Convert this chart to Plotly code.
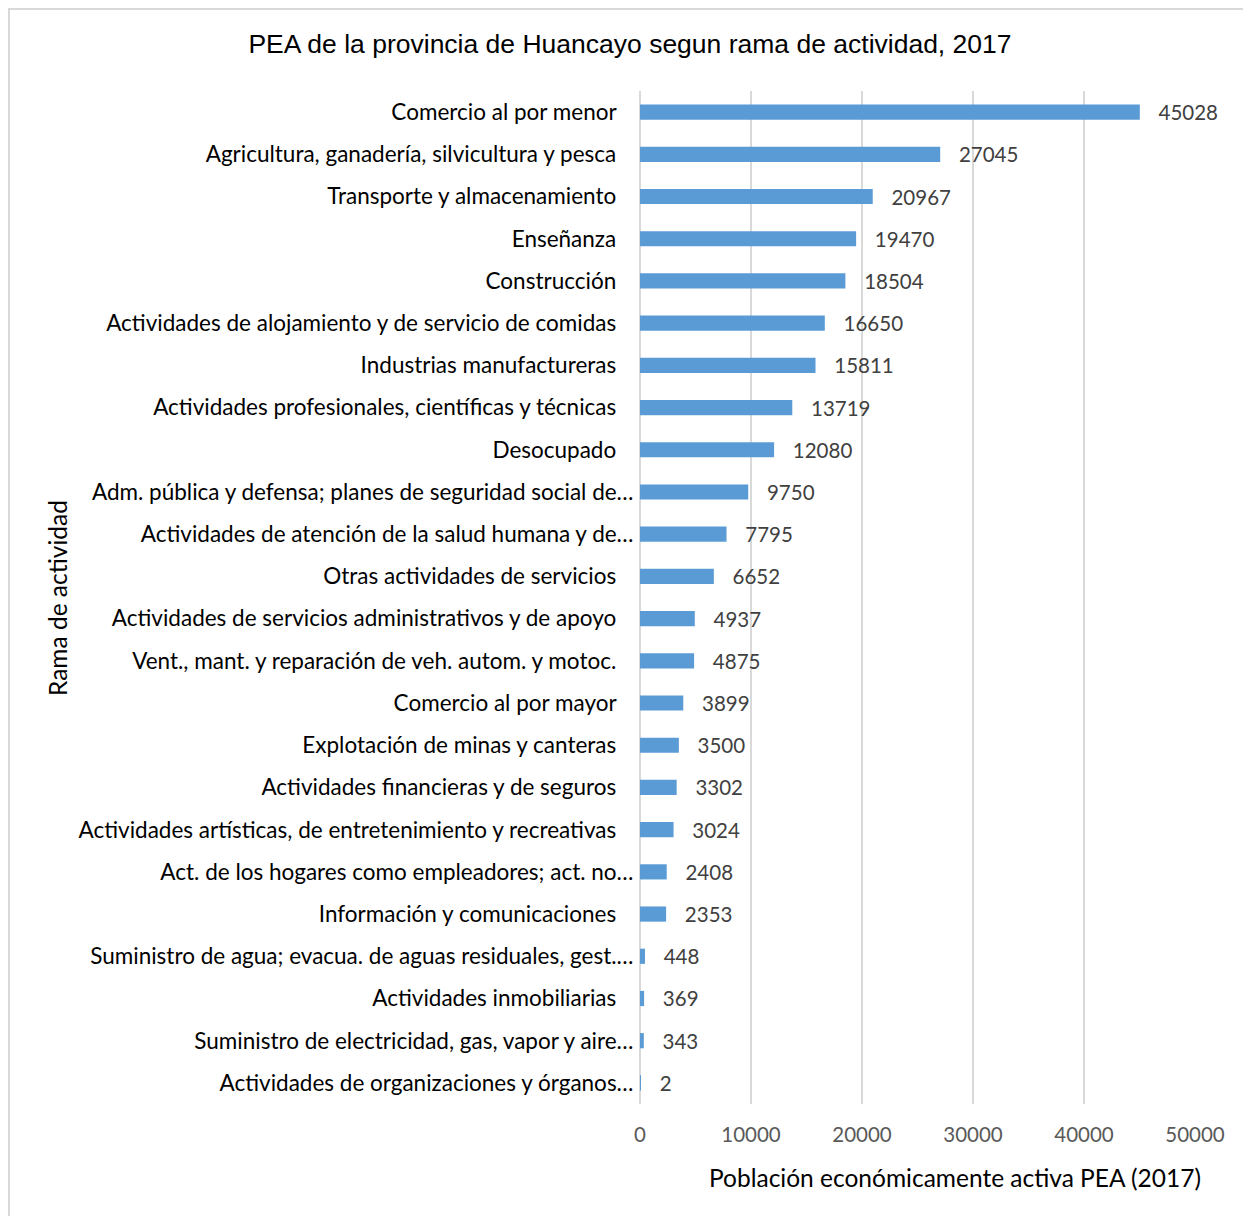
import plotly.graph_objects as go

categories = [
    "Comercio al por menor",
    "Agricultura, ganadería, silvicultura y pesca",
    "Transporte y almacenamiento",
    "Enseñanza",
    "Construcción",
    "Actividades de alojamiento y de servicio de comidas",
    "Industrias manufactureras",
    "Actividades profesionales, científicas y técnicas",
    "Desocupado",
    "Adm. pública y defensa; planes de seguridad social de…",
    "Actividades de atención de la salud humana y de…",
    "Otras actividades de servicios",
    "Actividades de servicios administrativos y de apoyo",
    "Vent., mant. y reparación de veh. autom. y motoc.",
    "Comercio al por mayor",
    "Explotación de minas y canteras",
    "Actividades financieras y de seguros",
    "Actividades artísticas, de entretenimiento y recreativas",
    "Act. de los hogares como empleadores; act. no…",
    "Información y comunicaciones",
    "Suministro de agua; evacua. de aguas residuales, gest.…",
    "Actividades inmobiliarias",
    "Suministro de electricidad, gas, vapor y aire…",
    "Actividades de organizaciones y órganos…",
]
values = [45028, 27045, 20967, 19470, 18504, 16650, 15811, 13719, 12080, 9750,
          7795, 6652, 4937, 4875, 3899, 3500, 3302, 3024, 2408, 2353, 448, 369, 343, 2]
x_ticks = [0, 10000, 20000, 30000, 40000, 50000]

title_text = "PEA de la provincia de Huancayo segun rama de actividad, 2017"
x_title = "Población económicamente activa PEA (2017)"
y_title = "Rama de actividad"

LABEL_FONT = "Lato"
OFF = 8  # page body margin

# Excel right-aligns truncated labels slightly further right than full ones
tick_text = [c if c.endswith("…") else c + "\u00a0" * 3 for c in categories]

fig = go.Figure()
fig.add_trace(go.Bar(
    y=categories,
    x=values,
    orientation="h",
    marker=dict(color="#5B9BD5", line=dict(width=0)),
    width=0.36,
    text=["   " + str(v) for v in values],
    textposition="outside",
    constraintext="none",
    textfont=dict(family=LABEL_FONT, size=20.5, color="#404040"),
    cliponaxis=False,
    hoverinfo="x+y",
))

W, H = 1251 - OFF, 1216 - OFF
ml, mr, mt, mb = 640 - OFF, 56, 91 - OFF, 112
pw = W - ml - mr
ph = H - mt - mb

fig.update_layout(
    width=W, height=H,
    margin=dict(l=ml, r=mr, t=mt, b=mb, autoexpand=False),
    paper_bgcolor="white",
    plot_bgcolor="white",
    showlegend=False,
    title=dict(text=title_text, x=(630 - OFF) / W, xanchor="center", y=1 - (44 - OFF) / H, yanchor="middle",
               font=dict(family="Liberation Sans", size=26.5, color="#000000")),
    xaxis=dict(
        range=[0, 50000],
        tickvals=x_ticks,
        ticktext=[str(t) for t in x_ticks],
        showgrid=True, gridcolor="#D9D9D9", gridwidth=1.5,
        zeroline=True, zerolinecolor="#D9D9D9", zerolinewidth=1.5,
        showline=False,
        tickfont=dict(family=LABEL_FONT, size=20.5, color="#595959"),
        ticks="outside", ticklen=12, tickcolor="rgba(0,0,0,0)",
    ),
    yaxis=dict(
        autorange="reversed",
        tickmode="array",
        tickvals=categories,
        ticktext=tick_text,
        showgrid=False, zeroline=False, showline=False,
        tickfont=dict(family=LABEL_FONT, size=22.5, color="#000000"),
        ticks="outside", ticklen=1, tickcolor="rgba(0,0,0,0)",
    ),
    bargap=0.64,
    annotations=[
        dict(text=x_title, xref="paper", yref="paper",
             x=(955 - 640) / pw, y=-(1177 - 1104) / ph,
             xanchor="center", yanchor="middle", showarrow=False,
             font=dict(family=LABEL_FONT, size=24.5, color="#000000")),
        dict(text=y_title, xref="paper", yref="paper",
             x=-(640 - 57) / pw, y=(1104 - 598) / ph,
             xanchor="center", yanchor="middle", textangle=-90, showarrow=False,
             font=dict(family=LABEL_FONT, size=24.5, color="#000000")),
    ],
    shapes=[
        dict(type="rect", xref="paper", yref="paper",
             x0=-(ml - 1) / pw, x1=1 + (mr + 20) / pw,
             y0=-(mb + 20) / ph, y1=1 + (mt - 1) / ph,
             line=dict(color="#D9D9D9", width=2), layer="below"),
    ],
)

fig.write_html("out.html")
